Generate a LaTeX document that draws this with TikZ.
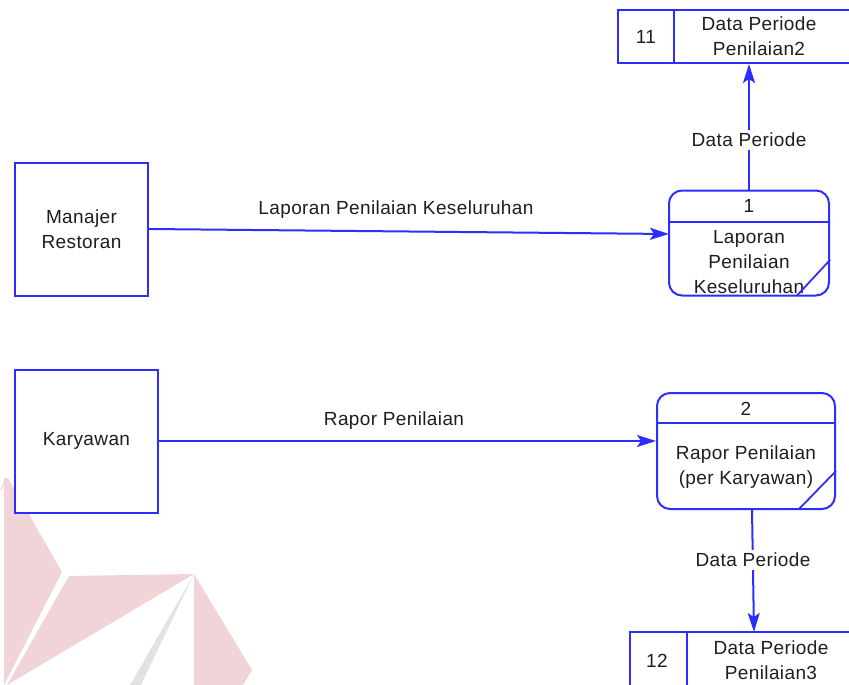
\documentclass[tikz,border=0pt]{standalone}
\usepackage{fontspec}
\setmainfont{Liberation Sans}[LetterSpace=2]
\usetikzlibrary{arrows.meta}
\definecolor{dfdblue}{RGB}{45,45,255}
\definecolor{inkgray}{RGB}{30,30,30}
\definecolor{markpink}{RGB}{241,212,216}
\definecolor{markgray}{RGB}{226,226,226}

\begin{document}
\begin{tikzpicture}[x=1pt,y=-1pt,
  font=\fontsize{19}{25}\selectfont, text=inkgray,
  entity/.style={draw=dfdblue, fill=white, line width=2pt, align=center, inner sep=0pt},
  procbox/.style={draw=dfdblue, fill=white, line width=2pt, rounded corners=13pt, inner sep=0pt},
  flow/.style={draw=dfdblue, line width=2pt, -{Stealth[length=19pt,width=12pt,inset=4pt]}},
  edge line/.style={draw=dfdblue, line width=1.8pt},
  flowlabel/.style={fill=white, inner sep=3pt},
  plain/.style={align=center, inner sep=0pt}]

\useasboundingbox (0,0) rectangle (849,685);

% faint logo in the lower left corner
\fill[markpink] (4,478) -- (8,478) -- (62,572) -- (4,685) -- cycle;
\fill[markpink] (69,576) -- (194,574) -- (7,685) -- cycle;
\fill[markpink] (194,574) -- (252,670) -- (243,685) -- (194,685) -- cycle;
\fill[markgray] (194,574) -- (130,685) -- (141,685) -- cycle;
\fill[markgray] (0,490) -- (5,478) -- (2,490) -- cycle;

% external entities
\node[entity, minimum width=133pt, minimum height=133pt] (manajer) at (81.5,229) {Manajer\\Restoran};
\node[entity, minimum width=143pt, minimum height=143pt] (karyawan) at (86.5,441) {Karyawan};

% process 1
\node[procbox, minimum width=160pt, minimum height=105pt] (p1) at (749,243) {};
\draw[edge line] (669,222) -- (829,222);
\node[plain] (p1id) at (749,206) {1};
\node[plain] (p1name) at (749,262) {Laporan\\Penilaian\\Keseluruhan};
\draw[edge line] (797,295.5) -- (830,260);

% process 2
\node[procbox, minimum width=178pt, minimum height=116pt] (p2) at (746,451) {};
\draw[edge line] (657,423) -- (835,423);
\node[plain] (p2id) at (746,409) {2};
\node[plain] (p2name) at (746,467.5) {Rapor Penilaian\\(per Karyawan)};
\draw[edge line] (799,509) -- (836,471);

% data store 11
\draw[edge line] (855,10) -- (618,10) -- (618,63) -- (855,63);
\draw[edge line] (674,10) -- (674,63);
\node[plain] (s11id) at (646,37) {11};
\node[plain] (s11name) at (759,36) {Data Periode\\Penilaian2};
\coordinate (s11in) at (749,64);

% data store 12
\draw[edge line] (630,690) -- (630,632) -- (855,632);
\draw[edge line] (687,632) -- (687,690);
\node[plain] (s12id) at (657,661) {12};
\node[plain] (s12name) at (771,660) {Data Periode\\Penilaian3};
\coordinate (s12in) at (754,632);
\coordinate (p2out) at (752,509);

% data flows
\coordinate (p1in) at (669,234);
\draw[flow] (manajer.east) -- (p1in);
\node[plain] (lbl1) at (396,210) {Laporan Penilaian Keseluruhan};

\draw[flow] (karyawan.east) -- (karyawan.east -| p2.west);
\node[plain] (lbl2) at (394,421) {Rapor Penilaian};

\draw[flow] (p1.north) -- (s11in);
\node[flowlabel] (lbl3) at (749,140) {Data Periode};

\draw[flow] (p2out) -- (s12in);
\node[flowlabel] (lbl4) at (753,560) {Data Periode};
\end{tikzpicture}
\end{document}
